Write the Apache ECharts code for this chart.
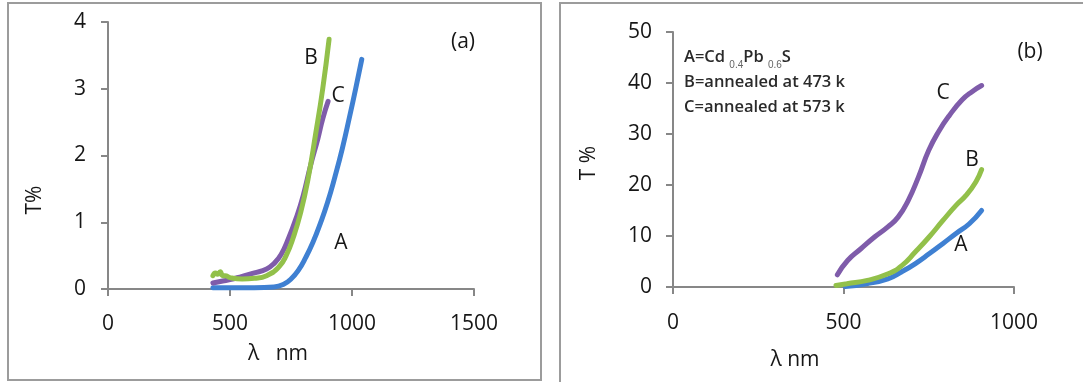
<!DOCTYPE html>
<html>
<head>
<meta charset="utf-8">
<script src="https://cdn.jsdelivr.net/npm/echarts@6/dist/echarts.min.js"></script>
<style>
  html, body { margin: 0; padding: 0; background: #fff; }
  #chart { width: 1083px; height: 382px; }
</style>
</head>
<body>
<div id="chart"></div>
<script>
// Panel (a): transmittance of the as-deposited and annealed films
const aNmA = [430, 500, 600, 680, 720, 750, 780, 810, 840, 870, 900, 930, 960, 990, 1015, 1040];
const aTA  = [0.02, 0.02, 0.02, 0.03, 0.07, 0.15, 0.28, 0.47, 0.7, 0.98, 1.3, 1.68, 2.1, 2.58, 3.0, 3.44];
const aNmB = [430, 440, 450, 460, 470, 480, 500, 550, 600, 650, 700, 730, 760, 790, 820, 850, 880, 906];
const aTB  = [0.2, 0.24, 0.22, 0.26, 0.2, 0.2, 0.17, 0.15, 0.16, 0.2, 0.33, 0.5, 0.78, 1.15, 1.65, 2.3, 3.0, 3.74];
const aNmC = [430, 470, 500, 550, 600, 650, 680, 710, 740, 770, 800, 830, 860, 880, 902];
const aTC  = [0.09, 0.12, 0.14, 0.19, 0.24, 0.3, 0.38, 0.52, 0.76, 1.05, 1.4, 1.85, 2.25, 2.55, 2.81];

// Panel (b)
const bNmA = [505, 568, 630, 671, 711, 751, 791, 830, 869, 905];
const bTA  = [0.1, 0.65, 1.6, 3.0, 4.6, 6.5, 8.5, 10.5, 12.4, 15.0];
const bNmB = [478, 510, 570, 631, 671, 711, 751, 791, 830, 860, 888, 905];
const bTB  = [0.3, 0.65, 1.3, 2.6, 4.2, 6.9, 9.8, 13.0, 16.0, 18.0, 20.6, 23.0];
const bNmC = [482, 512, 551, 591, 630, 660, 690, 720, 750, 780, 810, 848, 877, 905];
const bTC  = [2.4, 5.2, 7.5, 9.8, 11.8, 13.7, 17.0, 21.6, 26.8, 30.6, 33.6, 36.7, 38.3, 39.5];

// Axis ticks
const aXTicks = { min: 0, max: 1500, step: 500 };
const aYTicks = { min: 0, max: 4, step: 1 };
const bXTicks = { min: 0, max: 1000, step: 500 };
const bYTicks = { min: 0, max: 50, step: 10 };

const legendLines = ['A=Cd {s|0.4}Pb {s|0.6}S', 'B=annealed at 473 k', 'C=annealed at 573 k'];

const FONT = 'Open Sans';
const TXT = '#161616';
const AXIS = '#878787';
const BLUE = '#3f80d2';
const GREEN = '#92c04a';
const PURPLE = '#7f5caa';

const pairs = (xs, ys) => xs.map((x, i) => [x, ys[i]]);

function xAxis(gridIndex, t, margin) {
  return {
    type: 'value', gridIndex, min: t.min, max: t.max, interval: t.step,
    axisLine: { show: true, onZero: false, lineStyle: { color: AXIS, width: 2 } },
    axisTick: { show: true, length: 7, lineStyle: { color: AXIS, width: 2 } },
    axisLabel: { fontFamily: FONT, fontSize: 21, color: TXT, margin, formatter: v => String(v) },
    splitLine: { show: false }
  };
}
function yAxis(gridIndex, t, margin) {
  return {
    type: 'value', gridIndex, min: t.min, max: t.max, interval: t.step,
    axisLine: { show: true, lineStyle: { color: AXIS, width: 2 } },
    axisTick: { show: true, length: 7, lineStyle: { color: AXIS, width: 2 } },
    axisLabel: { fontFamily: FONT, fontSize: 21, color: TXT, margin, formatter: v => String(v) },
    splitLine: { show: false }
  };
}
function curve(xi, yi, xs, ys, color) {
  return {
    type: 'line', xAxisIndex: xi, yAxisIndex: yi, data: pairs(xs, ys),
    smooth: 0.5, showSymbol: false, silent: true,
    lineStyle: { color, width: 5, cap: 'round', join: 'round' }, z: 3
  };
}
function text(x, y, s, size, extra) {
  return Object.assign({
    type: 'text', x, y,
    style: { text: s, fontFamily: FONT, fontSize: size, fill: TXT, align: 'center', verticalAlign: 'middle' }
  }, extra || {});
}

const chart = echarts.init(document.getElementById('chart'), null, { renderer: 'canvas' });
chart.setOption({
  animation: false,
  backgroundColor: '#fff',
  grid: [
    { left: 108, top: 22, width: 366, height: 267 },
    { left: 673, top: 32, width: 341, height: 255 }
  ],
  xAxis: [xAxis(0, aXTicks, 25), xAxis(1, bXTicks, 26)],
  yAxis: [yAxis(0, aYTicks, 22), yAxis(1, bYTicks, 21)],
  series: [
    curve(0, 0, aNmA, aTA, BLUE),
    curve(0, 0, aNmC, aTC, PURPLE),
    curve(0, 0, aNmB, aTB, GREEN),
    curve(1, 1, bNmA, bTA, BLUE),
    curve(1, 1, bNmB, bTB, GREEN),
    curve(1, 1, bNmC, bTC, PURPLE)
  ],
  graphic: [
    // panel frames
    { type: 'rect', shape: { x: 8, y: 3, width: 533, height: 377 }, style: { fill: 'none', stroke: '#9c9c9c', lineWidth: 2 } },
    { type: 'rect', shape: { x: 560, y: 3, width: 540, height: 400 }, style: { fill: 'none', stroke: '#9c9c9c', lineWidth: 2 } },
    // panel (a) texts
    text(463, 42, '(a)', 21),
    text(311, 58, 'B', 21),
    text(338, 96, 'C', 21),
    text(341, 243, 'A', 21),
    text(35, 200, 'T%', 21, { rotation: Math.PI / 2 }),
    text(278, 354, 'λ   nm', 21),
    // panel (b) texts
    text(1030, 52, '(b)', 21),
    text(943, 93, 'C', 21),
    text(972, 160, 'B', 21),
    text(961, 245, 'A', 21),
    text(589, 163, 'T %', 21, { rotation: Math.PI / 2 }),
    text(795, 360, 'λ nm', 21),
    {
      type: 'text', x: 684, y: 45,
      style: {
        text: legendLines.join('\n'),
        fontFamily: FONT, fontSize: 16.5, fontWeight: 600, fill: '#2a2a2a', lineHeight: 25,
        align: 'left', verticalAlign: 'top',
        rich: { s: { fontSize: 10, fontWeight: 400, fill: '#666', verticalAlign: 'bottom', lineHeight: 14, padding: [10, 0, 0, 0] } }
      }
    }
  ]
});
</script>
</body>
</html>
